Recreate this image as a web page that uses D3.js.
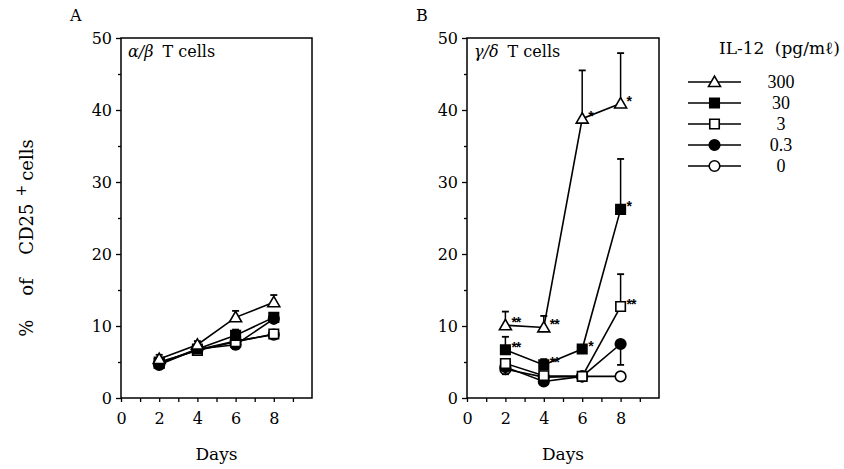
<!DOCTYPE html>
<html>
<head>
<meta charset="utf-8">
<script src="https://cdn.jsdelivr.net/npm/d3@7"></script>
<style>
  body { margin: 0; background: #fff; }
  svg text { font-family: "DejaVu Serif", serif; fill: #000; }
</style>
</head>
<body>
<svg id="chart" width="844" height="469"></svg>
<script>
// data
var days = [2, 4, 6, 8]
var doses = ["300", "30", "3", "0.3", "0"]
var shapes = ["triOpen", "sqFill", "sqOpen", "circFill", "circOpen"]

// alpha/beta T cells, order follows doses
var abMeans = [[5.4, 7.4, 11.2, 13.3], [4.8, 6.8, 8.7, 11.2], [5.0, 6.6, 7.8, 8.9], [4.6, 6.8, 7.4, 11.0], [4.8, 6.7, 7.9, 8.8]]
var abUp = [[0.6, 0.5, 0.9, 1.0], [0.4, 0.3, 0.8, 0.6], [0, 0, 0, 0], [0, 0, 0, 0], [0, 0, 0, 0]]
var abDown = [[0, 0, 0, 0], [0, 0, 0, 0], [0, 0, 0, 0], [0.3, 0, 0.6, 0], [0, 0, 0, 0]]

// gamma/delta T cells
var gdMeans = [[10.1, 9.8, 38.8, 40.9], [6.7, 4.6, 6.8, 26.2], [4.8, 3.1, 3.0, 12.7], [4.3, 2.3, 3.0, 7.5], [4.0, 2.9, 3.0, 3.0]]
var gdUp = [[1.9, 1.6, 6.7, 7.0], [1.8, 0.8, 0, 7.0], [0, 0, 0, 4.5], [0, 0, 0, 0], [0, 0, 0, 0]]
var gdDown = [[0, 0, 0, 0], [0, 0, 0, 0], [0, 0, 0, 0], [1.0, 0, 0, 2.9], [0, 0, 0, 0]]
var gdStars = [["**", "**", "*", "*"], ["**", "**", "*", "*"], ["", "", "", "**"], ["", "", "", ""], ["", "", "", ""]]

var xTicks = [0, 2, 4, 6, 8]
var yTicks = [0, 10, 20, 30, 40, 50]

var svg = d3.select("#chart")

var dims = { top: 38, bottom: 398 }
var yScale = d3.scaleLinear().domain([0, 50]).range([dims.bottom, dims.top])

function drawMarker(g, shape, cx, cy) {
    var sym, fill
    if (shape == "triOpen") { sym = d3.symbolTriangle; fill = "#fff" }
    if (shape == "sqFill") { sym = d3.symbolSquare; fill = "#000" }
    if (shape == "sqOpen") { sym = d3.symbolSquare; fill = "#fff" }
    if (shape == "circFill") { sym = d3.symbolCircle; fill = "#000" }
    if (shape == "circOpen") { sym = d3.symbolCircle; fill = "#fff" }
    var size = sym == d3.symbolTriangle ? 62 : (sym == d3.symbolSquare ? 90 : 88)
    var dy = sym == d3.symbolTriangle ? 1 : 0
    g.append("path")
     .attr("d", d3.symbol().type(sym).size(size))
     .attr("transform", "translate(" + cx + "," + (cy + dy) + ")")
     .style("fill", fill)
     .style("stroke", "#000")
     .style("stroke-width", 1.6)
}

function drawPanel(x0, x1, letter, title1, title2, means, up, down, stars) {
    var xScale = d3.scaleLinear().domain([0, 10]).range([x0, x1])
    var g = svg.append("g")

    // frame
    g.append("rect")
     .attr("x", x0).attr("y", dims.top)
     .attr("width", x1 - x0).attr("height", dims.bottom - dims.top)
     .style("fill", "none").style("stroke", "#000").style("stroke-width", 1.5)

    // axes
    var xAxis = d3.axisBottom(xScale).tickValues([0, 1, 2, 3, 4, 5, 6, 7, 8, 9])
                  .tickSize(4).tickFormat(d => xTicks.indexOf(d) >= 0 ? d : "")
    var gx = g.append("g").attr("transform", "translate(0," + dims.bottom + ")").call(xAxis)
    gx.select(".domain").remove()
    gx.selectAll("line").style("stroke-width", 1.3)
    gx.selectAll("text").attr("y", 15).style("font-size", "16px")
      .style("font-family", "DejaVu Serif")

    var yAxis = d3.axisLeft(yScale).tickValues(d3.range(0, 51, 5))
                  .tickSize(5).tickPadding(4)
                  .tickFormat(d => yTicks.indexOf(d) >= 0 ? d : "")
    var gy = g.append("g").attr("transform", "translate(" + x0 + ",0)").call(yAxis)
    gy.select(".domain").remove()
    gy.selectAll("line").style("stroke-width", 1.3)
      .attr("x2", d => yTicks.indexOf(d) >= 0 ? -5 : -3)
    gy.selectAll("text").style("font-size", "16px").style("font-family", "DejaVu Serif")
      .attr("dy", "0.36em")

    // labels
    svg.append("text").attr("x", x0 - 51).attr("y", 21)
       .style("font-size", "16px").text(letter)
    var t = svg.append("text").attr("x", x0 + 7).attr("y", 57).style("font-size", "16px")
    t.append("tspan").style("font-style", "italic").text(title1)
    t.append("tspan").attr("dx", 9).text(title2)

    svg.append("text").attr("x", (x0 + x1) / 2).attr("y", 460)
       .attr("text-anchor", "middle").style("font-size", "17px").text("Days")

    // series, drawn bottom dose first so 300 sits on top
    for (var s = doses.length - 1; s >= 0; s--) {
        var sg = g.append("g")
        var line = d3.line().x((d, i) => xScale(days[i])).y(d => yScale(d))
        sg.append("path").datum(means[s]).attr("d", line)
          .style("fill", "none").style("stroke", "#000").style("stroke-width", 1.6)
        means[s].forEach(function(v, i) {
            var cx = xScale(days[i])
            if (up[s][i] > 0) {
                var yt = yScale(v + up[s][i])
                sg.append("line").attr("x1", cx).attr("x2", cx).attr("y1", yScale(v)).attr("y2", yt)
                  .style("stroke", "#000").style("stroke-width", 1.5)
                sg.append("line").attr("x1", cx - 3.5).attr("x2", cx + 3.5).attr("y1", yt).attr("y2", yt)
                  .style("stroke", "#000").style("stroke-width", 1.8)
            }
            if (down[s][i] > 0) {
                var yb = yScale(v - down[s][i])
                sg.append("line").attr("x1", cx).attr("x2", cx).attr("y1", yScale(v)).attr("y2", yb)
                  .style("stroke", "#000").style("stroke-width", 1.5)
                sg.append("line").attr("x1", cx - 3.5).attr("x2", cx + 3.5).attr("y1", yb).attr("y2", yb)
                  .style("stroke", "#000").style("stroke-width", 1.8)
            }
        })
        means[s].forEach(function(v, i) {
            drawMarker(sg, shapes[s], xScale(days[i]), yScale(v))
        })
        if (stars) {
            means[s].forEach(function(v, i) {
                if (stars[s][i] == "") return
                sg.append("text").attr("x", xScale(days[i]) + 6).attr("y", yScale(v) + 2)
                  .style("font-size", "14px").style("fill", "#000")
                  .style("letter-spacing", "-1px")
                  .style("font-family", "Liberation Sans").style("font-weight", "bold")
                  .text(stars[s][i])
            })
        }
    }
}

drawPanel(121, 312, "A", "α/β", "T cells", abMeans, abUp, abDown, null)
drawPanel(467, 659, "B", "γ/δ", "T cells", gdMeans, gdUp, gdDown, gdStars)

// y axis title
var yl = svg.append("text")
            .attr("transform", "translate(33,238) rotate(-90)")
            .attr("text-anchor", "middle")
            .style("font-size", "18px")
            .style("word-spacing", "18px")
yl.append("tspan").text("% of CD25")
yl.append("tspan").attr("dx", 7).attr("dy", -7).style("font-size", "14px").text("+")
yl.append("tspan").attr("dx", 4).attr("dy", 7).text("cells")

// legend
var legend = svg.append("g")
legend.append("text").attr("x", 719).attr("y", 54).style("font-size", "17px")
      .style("word-spacing", "5px").text("IL-12 (pg/mℓ)")
var legendY = d3.scalePoint().domain(doses).range([82, 166])
doses.forEach(function(d, i) {
    var ly = legendY(d)
    legend.append("line").attr("x1", 688).attr("x2", 741).attr("y1", ly).attr("y2", ly)
          .style("stroke", "#000").style("stroke-width", 1.6)
    drawMarker(legend, shapes[i], 714.5, ly)
    legend.append("text").attr("x", 781).attr("y", ly + 6).attr("text-anchor", "middle")
          .style("font-size", "18px").style("font-family", "Liberation Serif").text(d)
})
</script>
</body>
</html>
